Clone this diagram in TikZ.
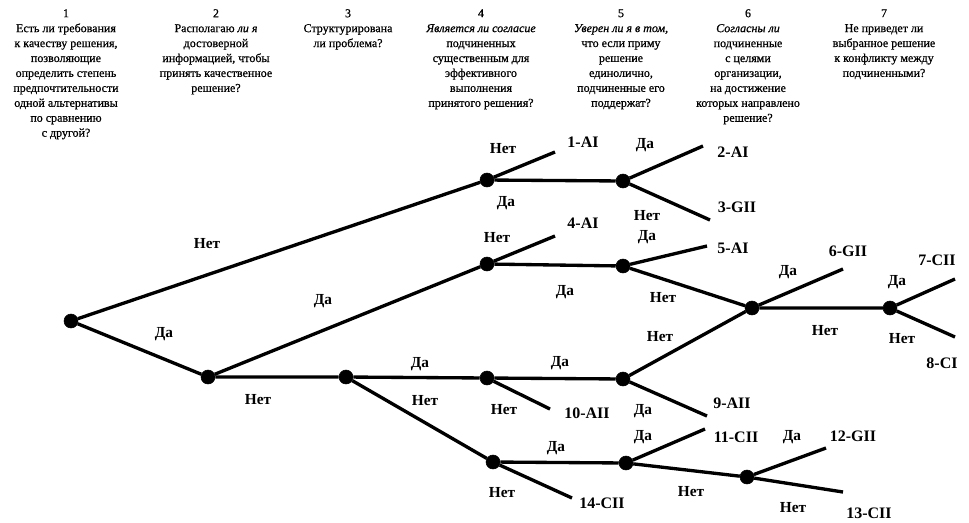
\documentclass[tikz,border=0pt]{standalone}
\usepackage{fontspec}
\setmainfont{Liberation Serif}
\newfontfamily\headfont[FakeBold=0.7]{Liberation Serif}

\tikzset{
  dot/.style={draw,circle,fill=black,inner sep=0pt,minimum size=10.5pt},
  branch/.style={line width=2.5pt},
  answer/.style={font=\bfseries\fontsize{11.5}{13}\selectfont,inner sep=0pt},
  result/.style={font=\bfseries\fontsize{12}{14}\selectfont,inner sep=0pt},
  question/.style={align=center,anchor=north,inner sep=0pt,font=\headfont\fontsize{9}{11.2}\selectfont}
}

\begin{document}
\begin{tikzpicture}[x=0.75pt,y=-0.75pt]
        \useasboundingbox (0,0) rectangle (969,522);
        \node[question] (h1) at (66,9) {1\\Есть ли требования\\к качеству решения,\\позволяющие\\определить степень\\предпочтительности\\одной альтернативы\\по сравнению\\с другой?};
        \node[question] (h2) at (216,9) {2\\Располагаю \textit{ли я}\\достоверной\\информацией, чтобы\\принять качественное\\решение?};
        \node[question] (h3) at (348,9) {3\\Структурирована\\ли проблема?};
        \node[question] (h4) at (481,9) {4\\\textit{Является ли согласие}\\подчиненных\\существенным для\\эффективного\\выполнения\\принятого решения?};
        \node[question] (h5) at (621,9) {5\\\textit{Уверен ли я в том,}\\что если приму\\решение\\единолично,\\подчиненные его\\поддержат?};
        \node[question] (h6) at (748,9) {6\\\textit{Согласны ли}\\подчиненные\\с целями\\организации,\\на достижение\\которых направлено\\решение?};
        \node[question] (h7) at (884,9) {7\\Не приведет ли\\выбранное решение\\к конфликту между\\подчиненными?};

        \node[dot] (q1) at (71,321) {};
        \node[dot] (q2) at (208,377) {};
        \node[dot] (q3) at (346,377) {};
        \node[dot] (a4) at (487,180) {};
        \node[dot] (b4) at (487,264) {};
        \node[dot] (c4) at (487,378) {};
        \node[dot] (d4) at (493,462) {};
        \node[dot] (a5) at (623,181) {};
        \node[dot] (b5) at (623,266) {};
        \node[dot] (c5) at (623,379) {};
        \node[dot] (d5) at (626,463) {};
        \node[dot] (a6) at (752,308) {};
        \node[dot] (d6) at (747,477) {};
        \node[dot] (a7) at (890,308) {};

        \coordinate (e1) at (555,152);
        \coordinate (e2) at (703,146);
        \coordinate (e3) at (710,220);
        \coordinate (e4) at (555,236);
        \coordinate (e5) at (707,246);
        \coordinate (e6) at (843,269);
        \coordinate (e7) at (955,279);
        \coordinate (e8) at (955,337);
        \coordinate (e9) at (707,416);
        \coordinate (e10) at (550,409);
        \coordinate (e11) at (705,429);
        \coordinate (e12) at (826,448);
        \coordinate (e13) at (843,492);
        \coordinate (e14) at (572,498);

        \draw[branch] (q1) -- (a4) -- (a5);
        \draw[branch] (q1) -- (q2) -- (q3) -- (c4) -- (c5);
        \draw[branch] (q2) -- (b4) -- (b5) -- (a6) -- (a7);
        \draw[branch] (q3) -- (d4) -- (d5) -- (d6);
        \draw[branch] (c5) -- (a6);
        \draw[branch] (a4) -- (e1);
        \draw[branch] (a5) -- (e2);
        \draw[branch] (a5) -- (e3);
        \draw[branch] (b4) -- (e4);
        \draw[branch] (b5) -- (e5);
        \draw[branch] (a6) -- (e6);
        \draw[branch] (a7) -- (e7);
        \draw[branch] (a7) -- (e8);
        \draw[branch] (c5) -- (e9);
        \draw[branch] (c4) -- (e10);
        \draw[branch] (d5) -- (e11);
        \draw[branch] (d6) -- (e12);
        \draw[branch] (d6) -- (e13);
        \draw[branch] (d4) -- (e14);

        \node[result] (r1) at (583,142) {1-AI};
        \node[result] (r2) at (733,152) {2-AI};
        \node[result] (r3) at (737,207) {3-GII};
        \node[result] (r4) at (583,223) {4-AI};
        \node[result] (r5) at (733,248) {5-AI};
        \node[result] (r6) at (848,251) {6-GII};
        \node[result] (r7) at (937,260) {7-CII};
        \node[result] (r8) at (942,363) {8-CI};
        \node[result] (r9) at (732,403) {9-AII};
        \node[result] (r10) at (587,413) {10-AII};
        \node[result] (r11) at (736,437) {11-CII};
        \node[result] (r12) at (853,436) {12-GII};
        \node[result] (r13) at (869,513) {13-CII};
        \node[result] (r14) at (602,503) {14-CII};

        \node[answer] (t1) at (207,244) {Нет};
        \node[answer] (t2) at (164,334) {Да};
        \node[answer] (t3) at (323,301) {Да};
        \node[answer] (t4) at (258,400) {Нет};
        \node[answer] (t5) at (420,364) {Да};
        \node[answer] (t6) at (425,401) {Нет};
        \node[answer] (t7) at (503,149) {Нет};
        \node[answer] (t8) at (506,203) {Да};
        \node[answer] (t9) at (645,145) {Да};
        \node[answer] (t10) at (647,216) {Нет};
        \node[answer] (t11) at (497,238) {Нет};
        \node[answer] (t12) at (565,292) {Да};
        \node[answer] (t13) at (647,237) {Да};
        \node[answer] (t14) at (663,298) {Нет};
        \node[answer] (t15) at (788,272) {Да};
        \node[answer] (t16) at (825,331) {Нет};
        \node[answer] (t17) at (897,282) {Да};
        \node[answer] (t18) at (902,339) {Нет};
        \node[answer] (t19) at (660,337) {Нет};
        \node[answer] (t20) at (560,363) {Да};
        \node[answer] (t21) at (504,410) {Нет};
        \node[answer] (t22) at (643,411) {Да};
        \node[answer] (t23) at (556,448) {Да};
        \node[answer] (t24) at (502,493) {Нет};
        \node[answer] (t25) at (643,437) {Да};
        \node[answer] (t26) at (691,492) {Нет};
        \node[answer] (t27) at (792,437) {Да};
        \node[answer] (t28) at (793,508) {Нет};
    \end{tikzpicture}
\end{document}
